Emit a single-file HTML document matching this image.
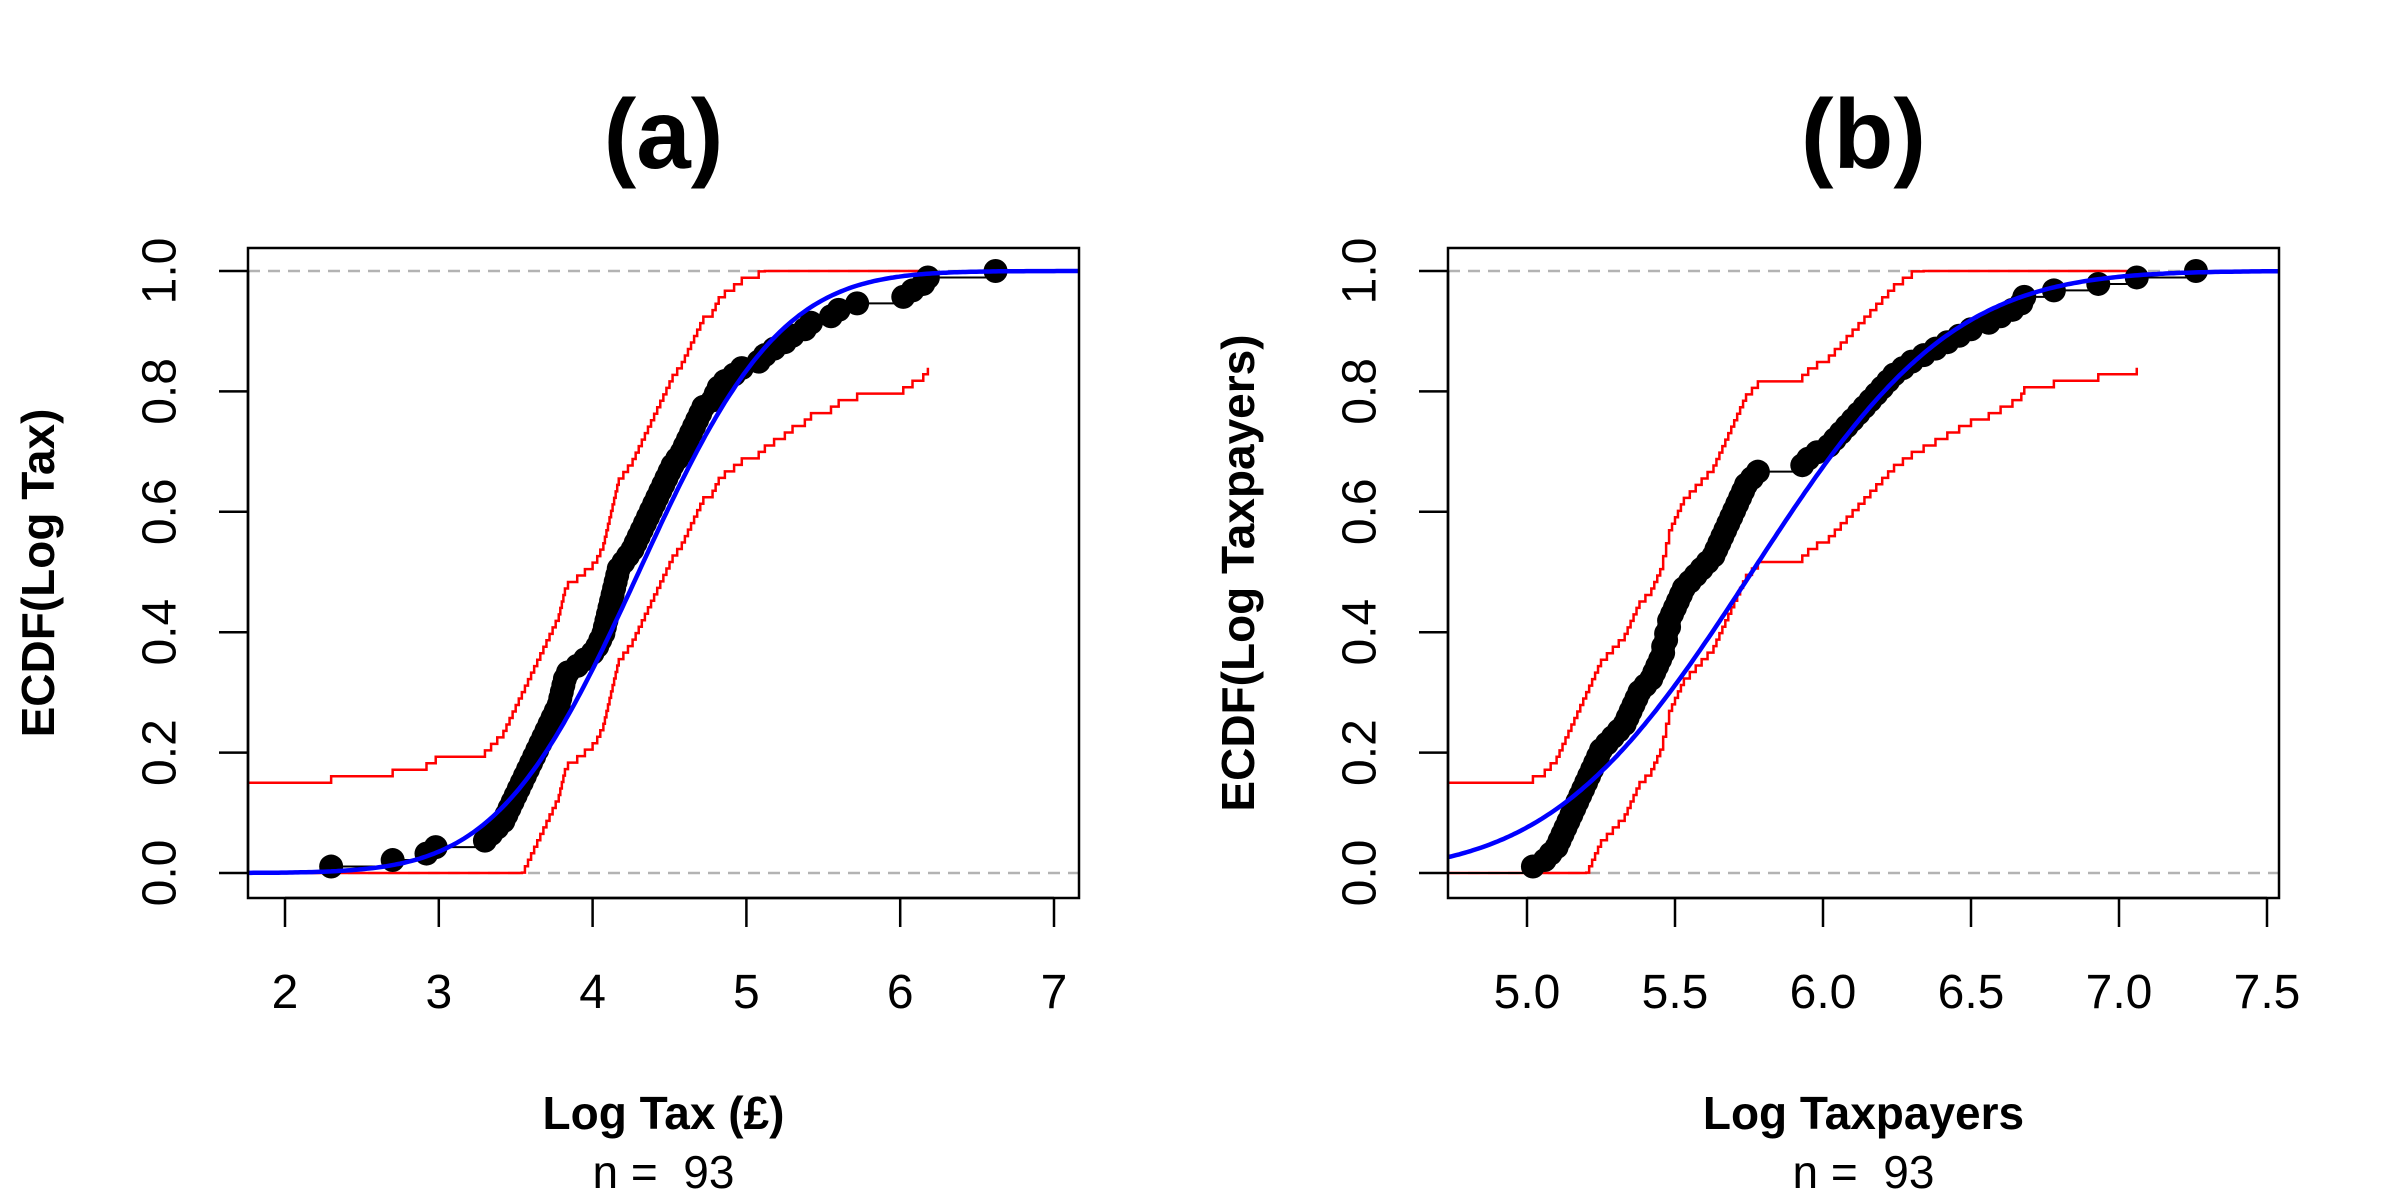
<!DOCTYPE html>
<html><head><meta charset="utf-8"><style>
html,body{margin:0;padding:0;background:#fff}
svg{display:block}
text{font-family:"Liberation Sans",Arial,sans-serif;white-space:pre}
</style></head><body>
<svg id="svg" width="2400" height="1200" viewBox="0 0 2400 1200" xmlns="http://www.w3.org/2000/svg"></svg>
<script>
const taxValues=[2.30,2.70,2.92,2.98,3.30,3.34,3.38,3.42,3.44,3.46,3.48,3.50,3.52,3.54,3.56,3.58,3.60,3.62,3.64,3.66,3.68,3.70,3.72,3.74,3.76,3.78,3.79,3.80,3.81,3.82,3.84,3.90,3.95,4.00,4.03,4.05,4.07,4.08,4.09,4.10,4.11,4.12,4.13,4.14,4.15,4.16,4.17,4.20,4.23,4.26,4.28,4.30,4.32,4.34,4.36,4.38,4.40,4.42,4.44,4.46,4.48,4.50,4.52,4.55,4.58,4.60,4.62,4.64,4.66,4.68,4.70,4.72,4.78,4.80,4.82,4.86,4.92,4.97,5.08,5.12,5.18,5.25,5.30,5.38,5.42,5.55,5.60,5.72,6.02,6.08,6.15,6.18,6.62];
const payerValues=[5.02,5.06,5.08,5.10,5.11,5.12,5.13,5.14,5.15,5.16,5.17,5.18,5.19,5.20,5.21,5.22,5.23,5.24,5.25,5.27,5.29,5.31,5.33,5.34,5.35,5.36,5.37,5.38,5.40,5.42,5.43,5.44,5.45,5.46,5.46,5.47,5.47,5.48,5.48,5.49,5.50,5.51,5.52,5.53,5.55,5.57,5.59,5.61,5.63,5.64,5.65,5.66,5.67,5.68,5.69,5.70,5.71,5.72,5.73,5.74,5.76,5.78,5.93,5.95,5.98,6.02,6.04,6.06,6.08,6.10,6.12,6.14,6.16,6.18,6.20,6.22,6.24,6.27,6.30,6.34,6.38,6.42,6.46,6.50,6.56,6.60,6.64,6.67,6.68,6.78,6.93,7.06,7.26];
const taxFit=[4.3,0.72];
const payerFit=[5.76,0.53];
const bandWidth=[0.15];
const yTicks=["0.0","0.2","0.4","0.6","0.8","1.0"];
const taxXTicks=["2","3","4","5","6","7"];
const payerXTicks=["5.0","5.5","6.0","6.5","7.0","7.5"];

const NS="http://www.w3.org/2000/svg";
const svg=document.getElementById('svg');
function el(tag,attrs,parent,txt){const e=document.createElementNS(NS,tag);for(const k in attrs)e.setAttribute(k,attrs[k]);if(txt!==undefined)e.textContent=txt;(parent||svg).appendChild(e);return e;}
function erf(x){const s=x<0?-1:1;x=Math.abs(x);const t=1/(1+0.3275911*x);const y=1-(((((1.061405429*t-1.453152027)*t)+1.421413741)*t-0.284496736)*t+0.254829592)*t*Math.exp(-x*x);return s*y;}
function pnorm(x,m,s){return 0.5*(1+erf((x-m)/(s*Math.SQRT2)));}

function panel(o){
  const g=el('g',{});
  
  
  const L=o.left,R=o.left+831,T=248,B=898;
  const sx=v=>o.x0+(v-o.v0)*o.unit;
  const sy=v=>873-v*602;
  const xmin=o.v0+(L-o.x0)/o.unit, xmax=o.v0+(R-o.x0)/o.unit;
  const clip=el('clipPath',{id:'c'+o.name},g);el('rect',{x:L,y:T,width:R-L,height:B-T},clip);
  const pg=el('g',{'clip-path':'url(#c'+o.name+')'},g);
  [0,1].forEach(v=>{const l=el('line',{x1:L,x2:R,y1:sy(v),y2:sy(v),stroke:'#b3b3b3','stroke-width':2.5,'stroke-dasharray':'12,8'},pg);
    });
  const d=o.data,n=d.length,w=bandWidth[0];
  ['upper','lower'].forEach(k=>{
    const f=i=>{const F=i/n;return k==='upper'?Math.min(1,F+w):Math.max(0,F-w);};
    let p='M'+L+','+sy(f(0));
    for(let i=0;i<n-1;i++){p+=' L'+sx(d[i])+','+sy(f(i))+' L'+sx(d[i])+','+sy(f(i+1));}
    p+=' L'+sx(d[n-2])+','+sy(f(n-1));
    const b=el('path',{d:p,fill:'none',stroke:'#ff0000','stroke-width':2.5},pg);
    
  });
  let p='M'+L+','+sy(0)+' L'+sx(d[0])+','+sy(0);
  for(let i=0;i<n;i++){const xe=i<n-1?sx(d[i+1]):R;p+=' M'+sx(d[i])+','+sy((i+1)/n)+' L'+xe+','+sy((i+1)/n);}
  const st=el('path',{d:p,fill:'none',stroke:'#000','stroke-width':2},pg);
  
  for(let i=0;i<n;i++){const c=el('circle',{cx:sx(d[i]),cy:sy((i+1)/n),r:12,fill:'#000'},pg);
    }
  let q='';for(let k=0;k<=300;k++){const v=xmin+(xmax-xmin)*k/300;q+=(k?' L':'M')+sx(v).toFixed(1)+','+sy(pnorm(v,o.fit[0],o.fit[1])).toFixed(1);}
  const bl=el('path',{d:q,fill:'none',stroke:'#0000ff','stroke-width':4.5},pg);
  
  const bx=el('rect',{x:L,y:T,width:R-L,height:B-T,fill:'none',stroke:'#000','stroke-width':2.5},g);
  
  yTicks.forEach(t=>{const y=sy(parseFloat(t));
    el('line',{x1:L-29,x2:L,y1:y,y2:y,stroke:'#000','stroke-width':2.5},g);
    const tx=el('text',{x:0,y:0,'font-size':48,'text-anchor':'middle',transform:`translate(${L-88},${y}) rotate(-90)`,'dominant-baseline':'central'},g,t);
    });
  el('line',{x1:L,x2:L,y1:sy(0),y2:sy(1),stroke:'#000','stroke-width':2.5},g);
  const xt=o.ticks.map(parseFloat);
  el('line',{x1:sx(xt[0]),x2:sx(xt[xt.length-1]),y1:B,y2:B,stroke:'#000','stroke-width':2.5},g);
  o.ticks.forEach(t=>{const x=sx(parseFloat(t));
    el('line',{x1:x,x2:x,y1:B,y2:B+29,stroke:'#000','stroke-width':2.5},g);
    const tx=el('text',{x:x,y:1008,'font-size':48,'text-anchor':'middle'},g,t);
    });
  const cx=(L+R)/2;
  const ti=el('text',{x:cx,y:168,'font-size':98,'font-weight':'bold','text-anchor':'middle'},g,o.title);
  
  const xl=el('text',{x:cx,y:1129,'font-size':46,'font-weight':'bold','text-anchor':'middle'},g,o.xlab);
  
  const nl=el('text',{x:cx,y:1188,'font-size':46,'text-anchor':'middle'},g,'n =  93');
  
  const yl=el('text',{x:0,y:0,'font-size':46,'font-weight':'bold','text-anchor':'middle',transform:`translate(${o.left-210},${(T+B)/2}) rotate(-90)`,'dominant-baseline':'central'},g,o.ylab);
  
}
panel({name:'panel-a',left:248,x0:285,v0:2,unit:153.8,data:taxValues,fit:taxFit,ticks:taxXTicks,title:'(a)',xlab:'Log Tax (£)',ylab:'ECDF(Log Tax)'});
panel({name:'panel-b',left:1448,x0:1527,v0:5,unit:296,data:payerValues,fit:payerFit,ticks:payerXTicks,title:'(b)',xlab:'Log Taxpayers',ylab:'ECDF(Log Taxpayers)'});
</script>
</body></html>
